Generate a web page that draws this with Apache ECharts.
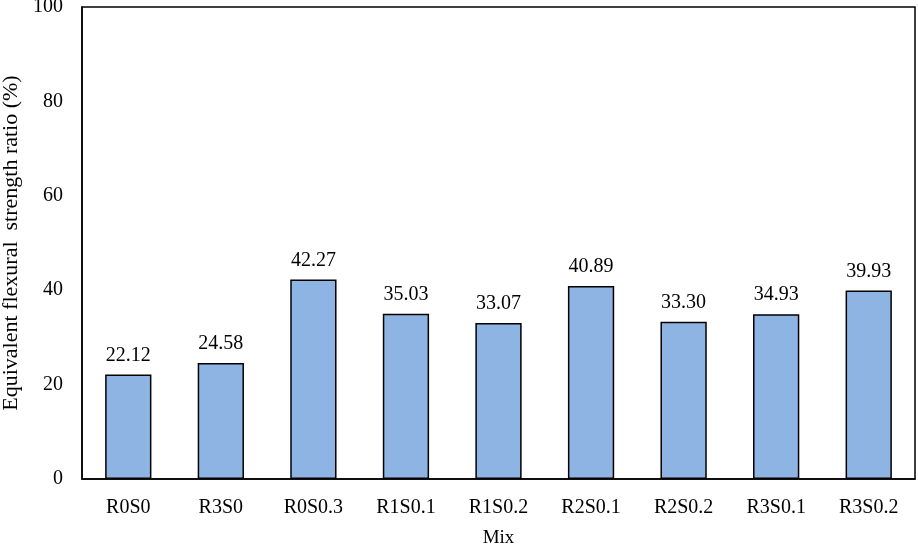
<!DOCTYPE html>
<html><head><meta charset="utf-8">
<script src="https://cdn.jsdelivr.net/npm/echarts@6/dist/echarts.min.js"></script>
<style>html,body{margin:0;padding:0;background:#fff}#c{width:918px;height:547px}</style>
</head><body><div id="c"></div>
<script>
const categories = ['R0S0','R3S0','R0S0.3','R1S0.1','R1S0.2','R2S0.1','R2S0.2','R3S0.1','R3S0.2'];
const values = [22.12, 24.58, 42.27, 35.03, 33.07, 40.89, 33.30, 34.93, 39.93];
const yTicks = [0, 20, 40, 60, 80, 100];

const font = 'Liberation Serif';
const fs = 20;
const chart = echarts.init(document.getElementById('c'), null, {renderer: 'canvas'});
chart.setOption({
  animation: false,
  grid: {left: 82, right: 3, top: 7, bottom: 68, containLabel: false, outerBoundsMode: 'none',
    show: true, borderColor: '#000', borderWidth: 1.5, backgroundColor: 'transparent'},
  xAxis: {
    type: 'category', data: categories,
    name: 'Mix', nameLocation: 'middle', nameGap: 50,
    nameTextStyle: {fontFamily: font, fontSize: 19, color: '#000'},
    axisLine: {lineStyle: {color: '#000', width: 1.5}},
    axisTick: {show: false},
    axisLabel: {fontFamily: font, fontSize: fs, color: '#000', margin: 19}
  },
  yAxis: {
    type: 'value', min: yTicks[0], max: yTicks[yTicks.length-1], interval: 20,
    name: 'Equivalent flexural  strength ratio (%)', nameLocation: 'middle', nameGap: 60,
    nameTextStyle: {fontFamily: font, fontSize: 22, color: '#000'},
    axisLine: {show: true, lineStyle: {color: '#000', width: 1.5}},
    axisTick: {show: false},
    splitLine: {show: false},
    axisLabel: {fontFamily: font, fontSize: fs, color: '#000', margin: 19}
  },
  series: [{
    type: 'bar', data: values, barWidth: '50%',
    itemStyle: {color: '#8EB4E3', borderColor: '#000', borderWidth: 1.5},
    label: {show: true, position: 'top', distance: 9, fontFamily: font, fontSize: fs, color: '#000',
      formatter: p => p.value.toFixed(2)}
  }]
});
</script></body></html>
